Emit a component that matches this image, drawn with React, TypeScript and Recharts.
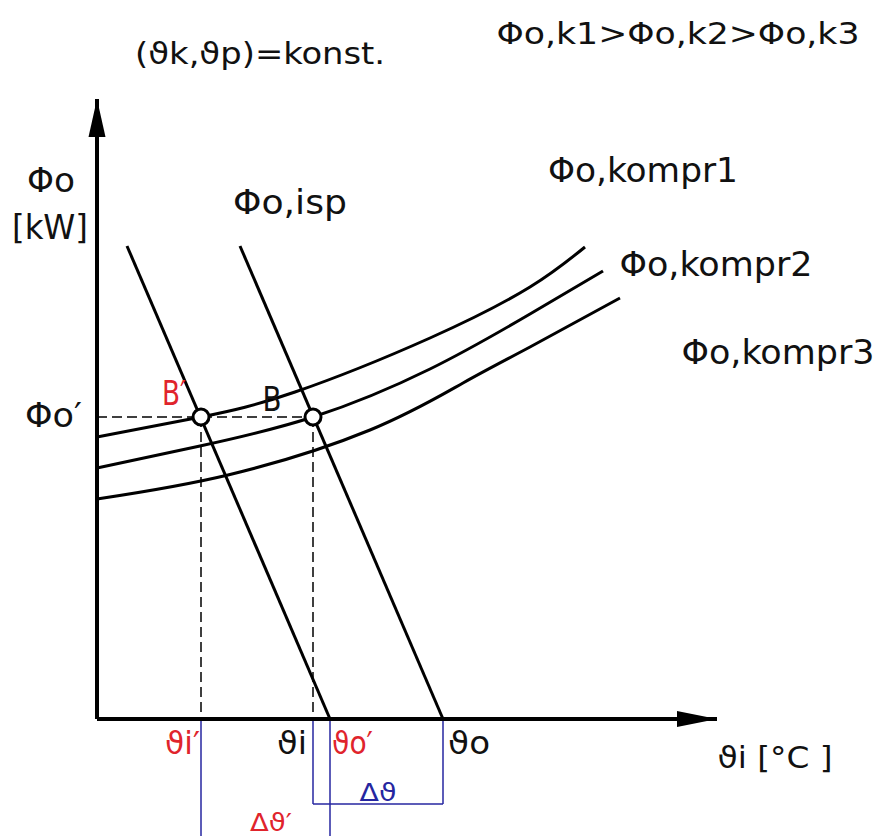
import React from "react";
import { ComposedChart, Line, XAxis, YAxis, ReferenceLine, ReferenceDot } from "recharts";

const WIDTH = 882;
const HEIGHT = 836;
const FONT = "'Liberation Sans Narrow', 'DejaVu Sans Condensed', 'DejaVu Sans', sans-serif";
const RED = "#e0242c";
const BLUE = "#2626a0";
const INK = "#111111";

// evaporator characteristics Φo,isp (primed = shifted state)
const ispPrime = [
  { x: 30, y: 473 },
  { x: 233, y: 0 },
];
const isp = [
  { x: 143, y: 473 },
  { x: 346, y: 0 },
];

// compressor characteristics Φo,kompr1..3
const kompr1 = [
  { x: 0, y: 282 },
  { x: 104, y: 302 },
  { x: 198, y: 327 },
  { x: 333, y: 381 },
  { x: 433, y: 432 },
  { x: 488, y: 472 },
];
const kompr2 = [
  { x: 0, y: 251 },
  { x: 103, y: 273 },
  { x: 216, y: 302 },
  { x: 333, y: 350 },
  { x: 433, y: 405 },
  { x: 506, y: 448 },
];
const kompr3 = [
  { x: 0, y: 220 },
  { x: 131, y: 244 },
  { x: 273, y: 289 },
  { x: 366, y: 336 },
  { x: 433, y: 372 },
  { x: 523, y: 421 },
];

// operating points B′ and B at the same capacity Φo′
const phiPrime = 302;
const pointX = [104, 216];

// x positions of ϑi′, ϑi, ϑo′, ϑo
const xTickValues = [104, 216, 233, 346];
const xTickLabels = ["ϑi′", "ϑi", "ϑo′", "ϑo"];
const xTickColors = [RED, INK, RED, INK];
const xTickWidths = [35, 30, 41, 42];
const xTickPlacement = [
  { anchor: "end", dx: -1 },
  { anchor: "end", dx: -6 },
  { anchor: "start", dx: 2 },
  { anchor: "start", dx: 5 },
];

// dimension lines for Δϑ and Δϑ′
const dimLines = [
  [{ x: 104, y: 0 }, { x: 104, y: -117 }],
  [{ x: 233, y: 0 }, { x: 233, y: -117 }],
  [{ x: 216, y: 0 }, { x: 216, y: -85 }],
  [{ x: 346, y: 0 }, { x: 346, y: -85 }],
  [{ x: 216, y: -85 }, { x: 346, y: -85 }],
];

const labels = [
  { text: "(ϑk,ϑp)=konst.", x: 163, y: 666, w: 250, size: 31, color: INK },
  { text: "Φo,k1>Φo,k2>Φo,k3", x: 581, y: 686, w: 363, size: 31, color: INK },
  { text: "Φo", x: -46, y: 539, w: 48, size: 33, color: INK },
  { text: "[kW]", x: -47, y: 492, w: 76, size: 33, color: INK },
  { text: "Φo,isp", x: 193, y: 517, w: 114, size: 33, color: INK },
  { text: "Φo,kompr1", x: 546, y: 549, w: 190, size: 33, color: INK },
  { text: "Φo,kompr2", x: 619, y: 455, w: 193, size: 33, color: INK },
  { text: "Φo,kompr3", x: 681, y: 367, w: 193, size: 33, color: INK },
  { text: "B′", x: 77, y: 326, w: 24, size: 33, color: RED },
  { text: "B", x: 175, y: 320, w: 19, size: 33, color: INK },
  { text: "ϑi [°C ]", x: 678, y: -38, w: 115, size: 31, color: INK },
  { text: "Δϑ", x: 281, y: -73, w: 37, size: 25, color: BLUE },
  { text: "Δϑ′", x: 174, y: -103, w: 42, size: 25, color: RED },
];

const XTick = (props: any) => {
  const i = xTickValues.indexOf(props.payload.value);
  if (i < 0) return null;
  const p = xTickPlacement[i];
  return (
    <text
      x={props.x + p.dx}
      y={props.y + 16}
      textAnchor={p.anchor}
      dominantBaseline="central"
      fontFamily={FONT}
      fontSize={32}
      fill={xTickColors[i]}
      textLength={xTickWidths[i]}
      lengthAdjust="spacingAndGlyphs"
    >
      {xTickLabels[i]}
    </text>
  );
};

const YTick = (props: any) => (
  <text
    x={props.x - 7}
    y={props.y - 2}
    textAnchor="end"
    dominantBaseline="central"
    fontFamily={FONT}
    fontSize={33}
    fill={INK}
    textLength={57}
    lengthAdjust="spacingAndGlyphs"
  >
    Φo′
  </text>
);

const textShape = (l: (typeof labels)[number]) => (p: any) => (
  <text
    x={p.cx}
    y={p.cy}
    textAnchor="middle"
    dominantBaseline="central"
    fontFamily={FONT}
    fontSize={l.size}
    fill={l.color}
    textLength={l.w}
    lengthAdjust="spacingAndGlyphs"
  >
    {l.text}
  </text>
);

export default function App() {
  return (
    <div style={{ position: "absolute", left: 0, top: 0, background: "#fff" }}>
      <ComposedChart
        width={WIDTH}
        height={HEIGHT}
        margin={{ top: 99, right: 165, bottom: 0, left: 0 }}
      >
        <XAxis
          type="number"
          dataKey="x"
          domain={[0, 620]}
          ticks={xTickValues}
          interval={0}
          tick={<XTick />}
          tickLine={false}
          height={117}
          axisLine={{ stroke: "#000", strokeWidth: 4 }}
        />
        <YAxis
          type="number"
          dataKey="y"
          domain={[0, 620]}
          ticks={[phiPrime]}
          interval={0}
          tick={<YTick />}
          tickLine={false}
          width={97}
          axisLine={{ stroke: "#000", strokeWidth: 4 }}
        />

        {/* projections of the operating points */}
        <ReferenceLine
          segment={[{ x: 0, y: phiPrime }, { x: pointX[1], y: phiPrime }]}
          stroke="#000"
          strokeWidth={1.5}
          strokeDasharray="10 5"
          ifOverflow="visible"
        />
        {pointX.map((px) => (
          <ReferenceLine
            key={"v" + px}
            segment={[{ x: px, y: phiPrime }, { x: px, y: 0 }]}
            stroke="#000"
            strokeWidth={1.5}
            strokeDasharray="10 5"
            ifOverflow="visible"
          />
        ))}

        {dimLines.map((seg, i) => (
          <ReferenceLine
            key={"d" + i}
            segment={seg}
            stroke={BLUE}
            strokeWidth={1.5}
            ifOverflow="visible"
          />
        ))}

        <Line data={ispPrime} dataKey="y" type="linear" stroke="#000" strokeWidth={3} dot={false} isAnimationActive={false} />
        <Line data={isp} dataKey="y" type="linear" stroke="#000" strokeWidth={3} dot={false} isAnimationActive={false} />
        <Line data={kompr1} dataKey="y" type="natural" stroke="#000" strokeWidth={3} dot={false} isAnimationActive={false} />
        <Line data={kompr2} dataKey="y" type="natural" stroke="#000" strokeWidth={3} dot={false} isAnimationActive={false} />
        <Line data={kompr3} dataKey="y" type="natural" stroke="#000" strokeWidth={3} dot={false} isAnimationActive={false} />

        {pointX.map((px) => (
          <ReferenceDot
            key={"p" + px}
            x={px}
            y={phiPrime}
            r={8}
            fill="#fff"
            stroke="#000"
            strokeWidth={3}
            ifOverflow="visible"
          />
        ))}

        {/* axis arrowheads */}
        <ReferenceDot
          x={620}
          y={0}
          r={1}
          ifOverflow="visible"
          shape={(p: any) => (
            <polygon points={`${p.cx},${p.cy} ${p.cx - 40},${p.cy - 8} ${p.cx - 40},${p.cy + 8}`} fill="#000" />
          )}
        />
        <ReferenceDot
          x={0}
          y={620}
          r={1}
          ifOverflow="visible"
          shape={(p: any) => (
            <polygon points={`${p.cx},${p.cy} ${p.cx - 8.5},${p.cy + 38} ${p.cx + 8.5},${p.cy + 38}`} fill="#000" />
          )}
        />

        {labels.map((l) => (
          <ReferenceDot key={l.text} x={l.x} y={l.y} r={1} ifOverflow="visible" shape={textShape(l)} />
        ))}
      </ComposedChart>
    </div>
  );
}
